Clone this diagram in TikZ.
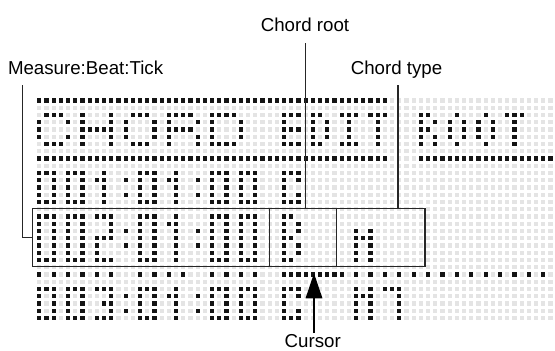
\documentclass[tikz,border=0pt]{standalone}
\usepackage{fontspec}
\setmainfont{Liberation Sans}
\usetikzlibrary{arrows.meta}
\definecolor{dotoff}{HTML}{E4E4E4}
\definecolor{doton}{HTML}{141414}
\definecolor{ink}{HTML}{262626}
\newcount\bcol
\newcount\brow
\def\PX{7.2}\def\PY{7.25}\def\XO{37.15}\def\YO{98.35}\def\DS{4.3}
\def\bitloop#1{\ifx#1\relax\else\ifx#1X\fill[doton] (\XO+\PX*\the\bcol,\YO+\PY*\the\brow) rectangle ++(\DS,\DS);\fi\advance\bcol by 1\relax\expandafter\bitloop\fi}
\def\bitrow#1#2#3{\bcol=#1\relax\brow=#2\relax\bitloop#3\relax}
\newcommand\glyph[3]{%
  \foreach \gr [count=\gi from 0] in {#3}{%
    \edef\tmp{\noexpand\bitrow{#1}{\the\numexpr#2+\gi\relax}{\gr}}\tmp}}
\tikzset{
  lbl/.style={font=\fontsize{18.7}{20}\selectfont, inner sep=0pt, text=black},
  leader/.style={draw=ink, line width=1.2pt},
}
\begin{document}
\begin{tikzpicture}[x=1pt,y=-1pt]
\useasboundingbox (0,0) rectangle (555,351);
\fill[white] (0,0) rectangle (555,351);
% background grid of unlit dots
\foreach \c in {0,...,71}{\foreach \r in {0,...,30}{\fill[dotoff] (\XO+\PX*\c,\YO+\PY*\r) rectangle ++(\DS,\DS);}}
% full rows
\foreach \c in {0,...,48}{\bitrow{\c}{0}{X}\bitrow{\c}{8}{X}}
\foreach \c in {53,...,71}{\bitrow{\c}{8}{X}}
% header: CHORD EDIT ROOT
\glyph{0}{2}{oXXXo,XoooX,Xoooo,XoooX,oXXXo}
\glyph{6}{2}{XoooX,XoooX,XXXXX,XoooX,XoooX}
\glyph{12}{2}{oXXXo,XoooX,XoooX,XoooX,oXXXo}
\glyph{18}{2}{XXXXo,XoooX,XXXXo,XoooX,XoooX}
\glyph{24}{2}{XXXXo,XoooX,XoooX,XoooX,XXXXo}
\glyph{34}{2}{XXX,Xoo,XXX,Xoo,XXX}
\glyph{38}{2}{XXo,XoX,XoX,XoX,XXo}
\glyph{42}{2}{XXX,oXo,oXo,oXo,XXX}
\glyph{46}{2}{XXX,oXo,oXo,oXo,oXo}
\glyph{53}{2}{XXo,XoX,XXo,XoX,XoX}
\glyph{57}{2}{oXo,XoX,XoX,XoX,oXo}
\glyph{61}{2}{oXo,XoX,XoX,XoX,oXo}
\glyph{65}{2}{XXX,oXo,oXo,oXo,oXo}
% line 001:01:00 C
\foreach \c in {0,4,14,24,28}{\glyph{\c}{10}{XXX,XoX,XoX,XoX,XXX}}
\foreach \c in {8,18}{\glyph{\c}{10}{oXo,XXo,oXo,oXo,oXo}}
\foreach \c in {12,22}{\bitrow{\c}{11}{X}\bitrow{\c}{13}{X}}
\glyph{34}{10}{XXX,XoX,Xoo,XoX,XXX}
% line 002:01:00 B M (tall)
\foreach \c in {0,4,14,24,28}{\glyph{\c}{16}{XXX,XoX,XoX,XoX,XoX,XoX,XXX}}
\glyph{8}{16}{XXX,ooX,ooX,XXX,Xoo,Xoo,XXX}
\glyph{18}{16}{oXo,XXo,oXo,oXo,oXo,oXo,oXo}
\foreach \c in {12,22}{\bitrow{\c}{18}{X}\bitrow{\c}{20}{X}}
\glyph{34}{16}{XXo,XoX,XoX,XXo,XoX,XoX,XXo}
\glyph{44}{18}{XoX,XXX,XoX,XoX,XoX}
% dotted row
\foreach \c in {0,2,4,6,8,10,14,16,18,20,24,26,28,30}{\bitrow{\c}{24}{X}}
\foreach \c in {34,...,42}{\bitrow{\c}{24}{X}}
\foreach \c in {44,46,...,70}{\bitrow{\c}{24}{X}}
% line 003:01:00 C M7
\foreach \c in {0,4,14,24,28}{\glyph{\c}{26}{XXX,XoX,XoX,XoX,XXX}}
\glyph{8}{26}{XXX,ooX,oXX,ooX,XXX}
\glyph{18}{26}{oXo,XXo,oXo,oXo,oXo}
\foreach \c in {12,22}{\bitrow{\c}{27}{X}\bitrow{\c}{29}{X}}
\glyph{34}{26}{XXX,XoX,Xoo,XoX,XXX}
\glyph{44}{26}{XoX,XXX,XoX,XoX,XoX}
\glyph{48}{26}{XXX,ooX,ooX,ooX,ooX}
% labels
\node[lbl, anchor=base] (mbt) at (85.6,74.5) {Measure:Beat:Tick};
\node[lbl, anchor=base] (croot) at (305,31.5) {Chord root};
\node[lbl, anchor=base] (ctype) at (396.5,74.5) {Chord type};
\node[lbl, anchor=base] (cur) at (312.8,347.5) {Cursor};
% box
\coordinate (boxNW) at (32.2,208.5);
\coordinate (boxSE) at (425,266.8);
\coordinate (divAtop) at (269.7,208.5);
\coordinate (divAbot) at (269.7,266.8);
\coordinate (divBtop) at (336.5,208.5);
\coordinate (divBbot) at (336.5,266.8);
\draw[leader] (boxNW) rectangle (boxSE);
\draw[leader] (divAtop) -- (divAbot);
\draw[leader] (divBtop) -- (divBbot);
% leaders
\coordinate (mbtA) at (22.5,85);
\coordinate (mbtB) at (22.5,237.5);
\coordinate (mbtC) at (32.2,237.5);
\draw[leader] (mbtA) -- (mbtB) -- (mbtC);
\coordinate (crA) at (305.7,43);
\coordinate (crB) at (305.7,208.5);
\draw[leader] (crA) -- (crB);
\coordinate (ctA) at (398,85);
\coordinate (ctB) at (398,208.5);
\draw[leader] (ctA) -- (ctB);
% cursor arrow
\coordinate (curEnd) at (314,333);
\coordinate (curTip) at (314,273.3);
\draw[leader, -{Triangle[length=25pt,width=16.6pt]}, draw=black] (curEnd) -- (curTip);
\end{tikzpicture}
\end{document}
